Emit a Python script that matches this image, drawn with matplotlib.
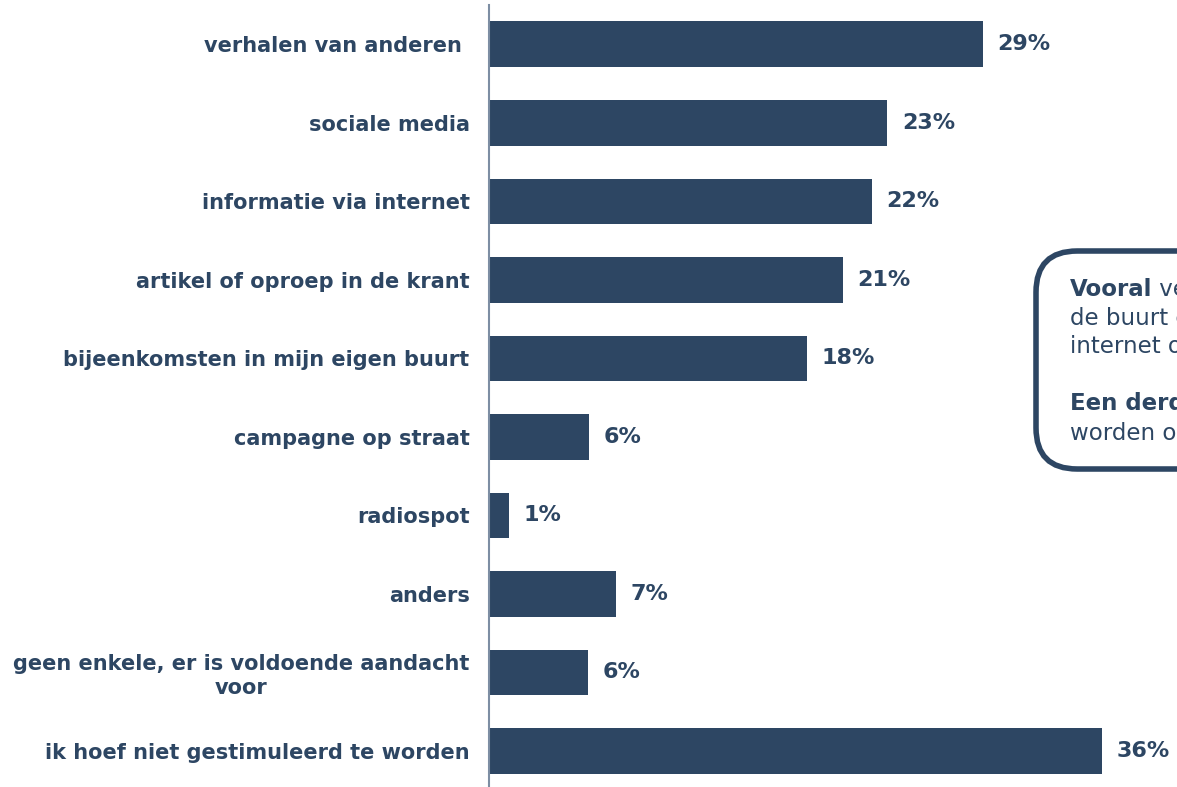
import matplotlib.pyplot as plt
from matplotlib.patches import FancyBboxPatch

# data (bar lengths, labels as printed)
categories = [
    "verhalen van anderen ",
    "sociale media",
    "informatie via internet",
    "artikel of oproep in de krant",
    "bijeenkomsten in mijn eigen buurt",
    "campagne op straat",
    "radiospot",
    "anders",
    "geen enkele, er is voldoende aandacht\nvoor",
    "ik hoef niet gestimuleerd te worden",
]
values = [29.0, 23.4, 22.5, 20.8, 18.7, 5.9, 1.2, 7.45, 5.8, 36.0]
value_labels = ["29%", "23%", "22%", "21%", "18%", "6%", "1%", "7%", "6%", "36%"]

box_lines = [
    ("Vooral", " verhalen van anderen uit"),
    ("", "de buurt en informatie via"),
    ("", "internet of sociale media."),
    ("", ""),
    ("Een derde", " hoeft niet gestimuleerd te"),
    ("", "worden om mee te doen."),
]

navy = "#2d4663"
axis_grey = "#7d8ea3"

fig = plt.figure(figsize=(11.77, 7.87), dpi=100)
ax = fig.add_axes([489 / 1177, 0.0, 1 - 489 / 1177, 1 - 5 / 787])

y = list(range(len(categories)))
ax.barh(y, values, height=0.58, color=navy)
for yi, v, lab in zip(y, values, value_labels):
    ax.text(v + 0.85, yi, lab, va="center", ha="left", fontsize=16,
            fontweight="bold", color=navy)

ax.set_xlim(0, 40.4)
ax.set_ylim(9.46, -0.5)
ax.set_yticks(y)
ax.set_yticklabels(categories, fontsize=15, fontweight="bold", color=navy,
                   ha="right", multialignment="center")
ax.tick_params(axis="y", length=0, pad=14)
ax.set_xticks([])
for s in ["top", "right", "bottom"]:
    ax.spines[s].set_visible(False)
ax.spines["left"].set_color(axis_grey)
ax.spines["left"].set_linewidth(1.5)

# info box (cut off at the right edge, as in the original)
box = FancyBboxPatch((1036 / 1177, 1 - 469 / 787), 300 / 1177, 218 / 787,
                     boxstyle="round,pad=0,rounding_size=0.035",
                     transform=fig.transFigure, facecolor="white",
                     edgecolor=navy, linewidth=4, clip_on=False,
                     mutation_aspect=1177 / 787)
fig.patches.append(box)

line_y = [289, 318, 346, 375, 404, 433]
for (bold, rest), ly in zip(box_lines, line_y):
    yy = 1 - ly / 787
    if bold:
        t = fig.text(1070 / 1177, yy, bold, fontsize=16.5, fontweight="bold",
                     color=navy, va="center", ha="left")
        fig.canvas.draw()
        bb = t.get_window_extent()
        fig.text(bb.x1 / 1177, yy, rest, fontsize=16.5, color=navy,
                 va="center", ha="left")
    else:
        fig.text(1070 / 1177, yy, rest, fontsize=16.5, color=navy,
                 va="center", ha="left")

fig.savefig("out.png", dpi=100)
